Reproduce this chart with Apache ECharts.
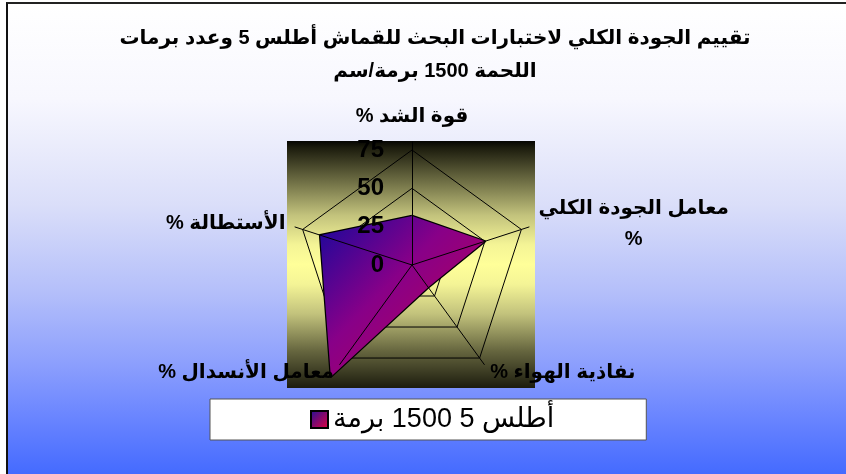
<!DOCTYPE html>
<html>
<head>
<meta charset="utf-8">
<script src="https://cdn.jsdelivr.net/npm/echarts@6/dist/echarts.min.js"></script>
<style>
html, body {margin: 0; padding: 0; background: #fff; overflow: hidden;}
#frame {position: absolute; left: 6px; top: 2px; width: 850px; height: 480px;
    border-top: 2px solid #222; border-left: 2px solid #111;
    background: linear-gradient(to bottom, #ffffff 0%, #f7f7fe 20%, #dadef9 42%, #b4bffa 60%, #8c9ffd 75%, #6a85ff 86%, #3e66ff 100%);}
#main {position: absolute; left: 0; top: 0; width: 846px; height: 474px;}
</style>
</head>
<body>
<div id="frame"></div>
<div id="main" dir="rtl"></div>
<script>
// قيم المخطط (بترتيب عقارب الساعة من الأعلى)
var titleLines = ["تقييم الجودة الكلي لاختبارات البحث للقماش أطلس 5 وعدد برمات", "اللحمة 1500 برمة/سم"]
var axisNames = ["قوة الشد %", "معامل الجودة الكلي\n%", "نفاذية الهواء %", "معامل الأنسدال %", "الأستطالة %"]
var axisMax = 75
var seriesName = "أطلس 5 1500 برمة"
var seriesValues = [32, 50, 18, 90, 63]

var FONT = "'Liberation Sans', Arial, 'DejaVu Sans', sans-serif"
var center = [412, 265], radius = 115

// echarts يرسم عكس عقارب الساعة، فنعكس الترتيب بعد المحور الأول
function cw(list) { return [list[0]].concat(list.slice(1).reverse()) }

var chart = echarts.init(document.getElementById("main"), null, {renderer: "canvas"})

var fill = new echarts.graphic.LinearGradient(0, 0, 1, 1, [
    {offset: 0, color: "#17089c"}, {offset: 0.42, color: "#880088"}, {offset: 1, color: "#c4004c"},
])
var boxFill = new echarts.graphic.LinearGradient(0, 0, 0, 1, [
    {offset: 0, color: "#050502"}, {offset: 0.025, color: "#1a1a0c"}, {offset: 0.15, color: "#66663f"},
    {offset: 0.3, color: "#c2c27c"}, {offset: 0.42, color: "#f4f496"}, {offset: 0.5, color: "#ffff99"},
    {offset: 0.58, color: "#f4f496"}, {offset: 0.7, color: "#c2c27c"}, {offset: 0.85, color: "#66663f"},
    {offset: 1, color: "#1c1c0e"},
])

var gridIndicator = cw(axisNames).map(function(name) { return {name: name, max: axisMax, min: 0} })
var labelIndicator = cw(axisNames).map(function(name, i) {
    var item = {name: name, max: axisMax, min: 0}
    if (i == 0) { item.axisLabel = {show: true} }
    return item
})
var hidden = {show: false}

chart.setOption({
    animation: false,
    title: {
        text: titleLines.join("\n"), left: 430, top: 17, textAlign: "center",
        textStyle: {fontFamily: FONT, fontSize: 20, fontWeight: "bold", color: "#000", lineHeight: 33},
    },
    legend: {
        left: 210, top: 399, padding: [7, 92, 7, 100],
        backgroundColor: "#fff", borderColor: "#555", borderWidth: 1, borderRadius: 0,
        itemWidth: 17, itemHeight: 17, itemGap: 5,
        textStyle: {fontFamily: FONT, fontSize: 27, color: "#000"},
        data: [{name: seriesName, icon: "rect", itemStyle: {color: new echarts.graphic.LinearGradient(0, 0, 1, 1, [
            {offset: 0, color: "#20109a"}, {offset: 1, color: "#e8003c"}]), borderColor: "#000", borderWidth: 2}}],
    },
    graphic: [{type: "rect", z: -5, shape: {x: center[0] - 125, y: 141, width: 248, height: 247},
        style: {fill: boxFill}}],
    radar: [{
        // الحلقات خلف السلسلة
        indicator: gridIndicator, center: center, radius: radius, splitNumber: 3, startAngle: 90, z: 1,
        shape: "polygon", axisName: hidden,
        axisLine: hidden, axisTick: hidden, axisLabel: hidden,
        splitLine: {lineStyle: {color: "#000", width: 1}}, splitArea: hidden,
    }, {
        // خطوط المحاور فوق السلسلة، أطول قليلا من الحلقة الخارجية
        indicator: gridIndicator, center: center, radius: radius + 8, splitNumber: 3, startAngle: 90, z: 5,
        shape: "polygon", axisName: hidden,
        axisLine: {show: true, lineStyle: {color: "#000", width: 1}},
        axisTick: hidden, axisLabel: hidden, splitLine: hidden, splitArea: hidden,
    }, {
        // الأسماء وأرقام المحور
        indicator: labelIndicator, center: center, radius: radius, splitNumber: 3, startAngle: 90, z: 6,
        shape: "polygon", nameGap: 18,
        axisName: {
            fontFamily: FONT, fontSize: 20, fontWeight: "bold", color: "#000",
            formatter: function(name) {
                return name.split("\n").map(function(p) { return "{c|" + p + "}" }).join("\n")
            },
            rich: {c: {align: "center", fontFamily: FONT, fontSize: 20, fontWeight: "bold", color: "#000", lineHeight: 31}},
        },
        axisLine: hidden, axisTick: hidden,
        axisLabel: {show: false, margin: 28, fontFamily: FONT, fontSize: 24, fontWeight: "bold", color: "#000"},
        splitLine: hidden, splitArea: hidden,
    }],
    series: [{
        type: "radar", radarIndex: 0, z: 3, symbol: "none",
        lineStyle: {color: "#000", width: 2.5},
        itemStyle: {color: fill},
        areaStyle: {color: fill, opacity: 1},
        data: [{name: seriesName, value: cw(seriesValues)}],
    }],
})
</script>
</body>
</html>
